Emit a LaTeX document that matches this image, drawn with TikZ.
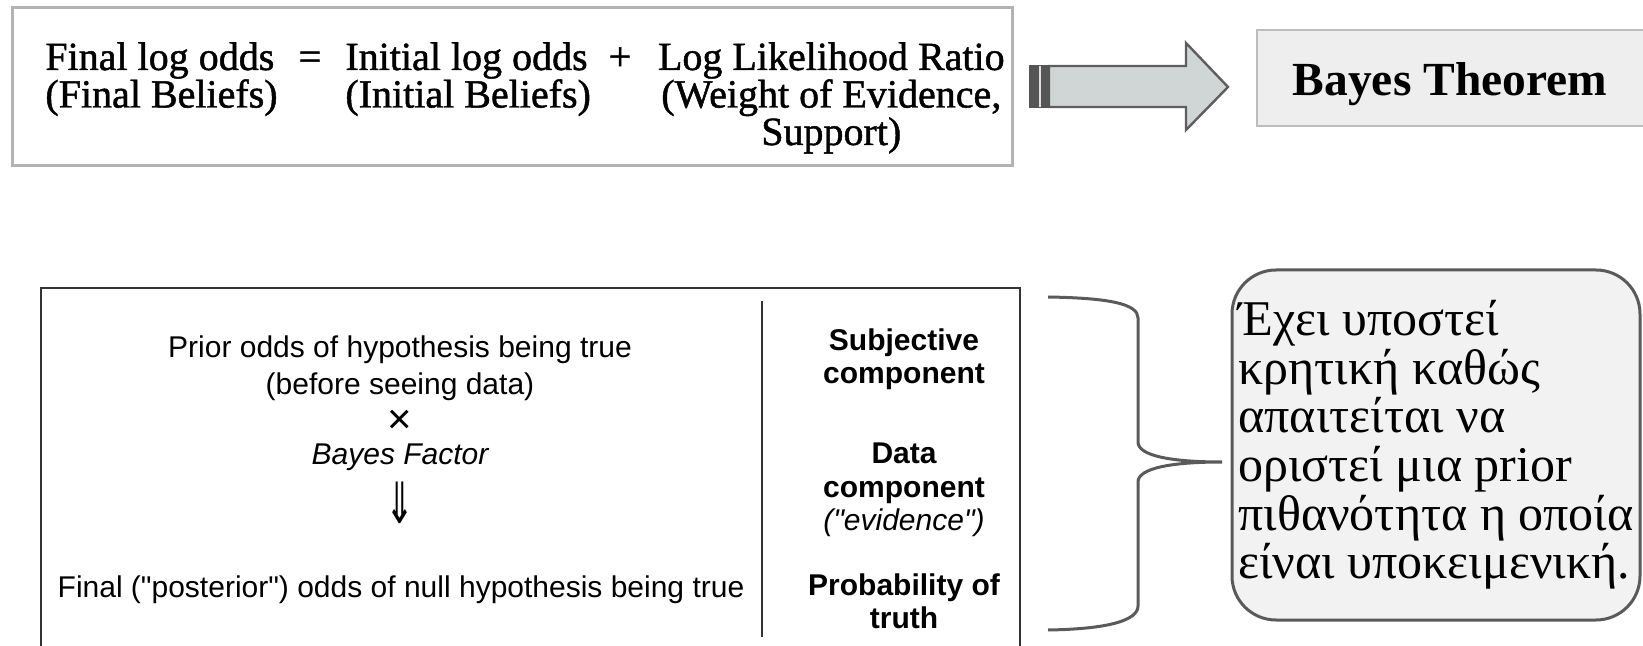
\documentclass[tikz,border=0pt]{standalone}
\usepackage{fontspec}
\setmainfont{Liberation Serif}
\setsansfont{Liberation Sans}
\newfontfamily\scanfont[FakeBold=1.2]{Liberation Serif}
\newfontfamily\symfont{DejaVu Sans}
\usetikzlibrary{positioning}

\definecolor{framegray}{HTML}{B3B3B3}
\definecolor{bayesfill}{HTML}{EEEEEE}
\definecolor{bayesline}{HTML}{BDBDBD}
\definecolor{arrowfill}{HTML}{D0D6D6}
\definecolor{arrowline}{HTML}{5E5E5E}
\definecolor{notefill}{HTML}{F2F2F2}
\definecolor{noteline}{HTML}{5A5A5A}

\tikzset{
  eqtext/.style={font=\scanfont\fontsize{20pt}{18.75pt}\selectfont, inner sep=0pt},
  cell/.style={font=\sffamily\fontsize{15pt}{18.4pt}\selectfont, inner sep=0pt, align=center},
  tag/.style={font=\sffamily\bfseries\fontsize{15pt}{16.5pt}\selectfont, inner sep=0pt, align=center},
}

\begin{document}
\begin{tikzpicture}[x=0.5pt,y=-0.5pt]
  \useasboundingbox (0,0) rectangle (1643,646);

  % log odds form in the upper frame (base = last line)
  \node (eqbox) [draw=framegray, line width=1.5pt, minimum width=500pt, minimum height=79pt] at (512,87) {};
  \node (lhs) [eqtext, anchor=base west, align=left] at (45,107.5) {Final log odds\\(Final Beliefs)};
  \node (eq) [eqtext, anchor=base] at (310,70) {=};
  \node (start) [eqtext, anchor=base west, align=left] at (345,107.5) {Initial log odds\\(Initial Beliefs)};
  \node (plus) [eqtext, anchor=base] at (620,70) {+};
  \node (llr) [eqtext, anchor=base east, align=center] at (1005,145) {Log Likelihood Ratio\\(Weight of Evidence,\\Support)};

  % block arrow towards the theorem
  \draw[arrowline, fill=arrowfill, line width=1.2pt, line join=miter]
    (1049,66) -- (1186,66) -- (1186,43) -- (1228,87) -- (1186,130) -- (1186,107) -- (1049,107) -- cycle;
  \fill[arrowline!90!black] (1029,65) rectangle (1050,108);
  \draw[white!75!gray, line width=0.6pt] (1040,66) -- (1040,107);

  \node (bayesbox) [draw=bayesline, fill=bayesfill, line width=0.75pt, minimum width=194.5pt, minimum height=48pt] at (1451.5,78) {};
  \node (bayes) [font=\bfseries\fontsize{23.75pt}{28pt}\selectfont, inner sep=0pt, anchor=base] at (1450,96) {Bayes Theorem};

  % table with the two columns
  \node (tbl) [draw=black!80, line width=1pt, minimum width=489.5pt, minimum height=206pt] at (530.5,494) {};
  \draw[black!80, line width=1pt] (762,301) -- (762,637);

  \node (odds) [cell, anchor=base] at (400,394) {Prior odds of hypothesis being true\\(before seeing data)};
  \node (times) [inner sep=0pt, font=\sffamily\fontsize{21pt}{21pt}\selectfont, text height=8pt, text depth=0pt, anchor=base] at (400,433) {×};
  \node (factor) [cell, anchor=base, font=\sffamily\itshape\fontsize{15pt}{18pt}\selectfont, text height=11pt, text depth=3pt] at (400,465) {Bayes Factor};
  \node (down) [inner sep=0pt, font=\symfont\fontsize{15pt}{15pt}\selectfont] at (400,503) {\scalebox{1.15}[1.9]{⇓}};
  \node (post) [cell, anchor=base] at (401,597) {Final (\textquotedbl posterior\textquotedbl) odds of null hypothesis being true};

  \node (subj) [tag, anchor=base] at (904,384) {Subjective\\component};
  \node (data) [tag, anchor=base] at (904,530) {Data\\component\\\normalfont\sffamily\itshape(\textquotedbl evidence\textquotedbl)};
  \node (truth) [tag, anchor=base] at (904,628) {Probability of\\truth};

  % remark on the prior
  \node (note) [draw=noteline, fill=notefill, line width=1.5pt, rounded corners=22pt,
    minimum width=204pt, minimum height=175pt, inner sep=2pt, align=left,
    font=\fontsize{25pt}{24.3pt}\selectfont] at (1436,445)
    {Έχει υποστεί\\κρητική καθώς\\απαιτείται να\\οριστεί μια prior\\πιθανότητα η οποία\\είναι υποκειμενική.};

  % brace from the table to the remark
  \draw[noteline, line width=1.5pt]
    (1048,297) .. controls (1110,298) and (1138,304) .. (1138,318) -- (1138,442)
    .. controls (1138,456) and (1172,462) .. (1222,462)
    .. controls (1172,462) and (1138,468) .. (1138,482) -- (1138,606)
    .. controls (1138,620) and (1110,629) .. (1048,630);
\end{tikzpicture}
\end{document}
